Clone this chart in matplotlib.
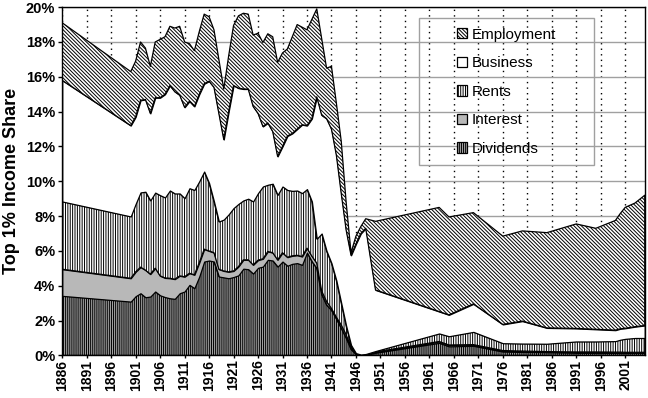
import numpy as np
import matplotlib
matplotlib.use('Agg')
from matplotlib import pyplot as plt
from matplotlib.patches import Rectangle

# share of national income (%) held by the top 1%, by income source
years = [1886, 1900, 1901, 1902, 1903, 1904, 1905, 1906, 1907, 1908, 1909,
         1910, 1911, 1912, 1913, 1914, 1915, 1916, 1917, 1918, 1919,
         1920, 1921, 1922, 1923, 1924, 1925, 1926, 1927, 1928, 1929,
         1930, 1931, 1932, 1933, 1934, 1935, 1936, 1937, 1938, 1939,
         1940, 1941, 1942, 1943, 1944, 1945, 1946, 1947, 1948, 1950,
         1963, 1965, 1970, 1976, 1980, 1985, 1991, 1995, 1999, 2000,
         2001, 2003, 2005]

dividends = [3.42, 3.09, 3.40, 3.57, 3.34, 3.38, 3.67, 3.45, 3.35, 3.28, 3.25,
             3.57, 3.67, 4.05, 3.86, 4.53, 5.39, 5.45, 5.39, 4.53, 4.48,
             4.43, 4.50, 4.60, 4.98, 4.95, 4.70, 5.03, 5.10, 5.49, 5.45,
             5.10, 5.39, 5.15, 5.26, 5.30, 5.20, 5.91, 5.40, 5.00, 3.50,
             2.90, 2.60, 2.10, 1.56, 1.00, 0.35, 0.07, 0.00, 0.03, 0.15,
             0.72, 0.52, 0.55, 0.22, 0.20, 0.18, 0.15, 0.15, 0.14, 0.14,
             0.14, 0.14, 0.14]

interest = [1.53, 1.34, 1.40, 1.50, 1.56, 1.29, 1.34, 1.12, 1.10, 1.15, 1.13,
            1.00, 0.85, 0.67, 0.77, 0.80, 0.71, 0.55, 0.51, 0.42, 0.37,
            0.37, 0.35, 0.50, 0.51, 0.54, 0.50, 0.44, 0.45, 0.48, 0.45,
            0.39, 0.51, 0.49, 0.46, 0.45, 0.48, 0.25, 0.30, 0.30, 0.20,
            0.20, 0.10, 0.10, 0.19, 0.20, 0.10, 0.03, 0.02, 0.02, 0.05,
            0.08, 0.08, 0.07, 0.06, 0.05, 0.04, 0.05, 0.05, 0.05, 0.05,
            0.04, 0.04, 0.04]

rents = [3.89, 3.55, 3.90, 4.29, 4.50, 4.23, 4.34, 4.63, 4.62, 5.04, 4.92,
         4.73, 4.51, 4.88, 4.87, 4.67, 4.46, 3.90, 2.94, 2.74, 2.95,
         3.30, 3.61, 3.60, 3.41, 3.51, 3.64, 3.85, 4.15, 3.83, 3.96,
         3.73, 3.80, 3.86, 3.73, 3.72, 3.64, 3.39, 3.14, 1.40, 3.30,
         2.90, 2.60, 2.10, 1.25, 0.50, 0.15, 0.03, 0.03, 0.03, 0.05,
         0.46, 0.50, 0.73, 0.42, 0.43, 0.45, 0.60, 0.60, 0.63, 0.71,
         0.77, 0.82, 0.82]

business = [6.96, 5.22, 5.00, 5.29, 5.30, 5.00, 5.45, 5.60, 5.93, 6.03, 5.85,
            5.65, 5.22, 5.00, 4.80, 5.00, 5.04, 5.85, 6.56, 6.21, 4.60,
            5.90, 7.04, 6.65, 6.40, 6.30, 5.46, 4.58, 3.45, 3.55, 3.00,
            2.21, 2.30, 3.10, 3.30, 3.53, 3.93, 3.65, 4.76, 8.15, 6.80,
            7.60, 7.70, 7.20, 6.30, 5.50, 5.15, 6.27, 6.95, 7.22, 3.51,
            1.26, 1.23, 1.61, 1.08, 1.29, 0.91, 0.75, 0.70, 0.63, 0.63,
            0.61, 0.65, 0.72]

employment = [3.30, 3.10, 3.20, 3.35, 2.95, 2.70, 3.20, 3.35, 3.30, 3.40, 3.65,
              3.95, 3.75, 3.30, 3.20, 3.60, 4.00, 3.70, 3.30, 3.10, 2.90,
              3.20, 3.45, 4.15, 4.35, 4.30, 4.10, 4.60, 4.82, 5.12, 5.44,
              5.40, 5.37, 5.00, 5.55, 6.00, 5.60, 5.50, 5.70, 5.05, 4.40,
              2.90, 3.60, 3.00, 3.00, 1.60, 0.15, 0.45, 0.40, 0.55, 3.94,
              5.98, 5.62, 5.24, 5.07, 5.18, 5.47, 6.00, 5.80, 6.30, 6.62,
              6.94, 7.10, 7.48]

labels = ['Dividends', 'Interest', 'Rents', 'Business', 'Employment']
tick_years = list(range(1886, 2002, 5))

plt.rcParams['font.family'] = ['Liberation Sans', 'DejaVu Sans']
plt.rcParams['hatch.linewidth'] = 0.7


def main():
    fig = plt.figure(figsize=(6.48, 3.98), dpi=100)
    ax = fig.add_axes([0.096, 0.107, 0.899, 0.875])

    series = [dividends, interest, rents, business, employment]
    styles = [('#a0a0a0', '|' * 8), ('#b8b8b8', None), ('white', '|' * 7),
              ('white', None), ('white', '\\' * 9)]
    x = np.array(years)
    lower = np.zeros(len(years))
    handles = []
    for vals, (fc, hatch), lab in zip(series, styles, labels):
        upper = lower + np.array(vals)
        h = ax.fill_between(x, lower, upper, facecolor=fc, hatch=hatch,
                            edgecolor='black', linewidth=0.9, label=lab,
                            zorder=3)
        handles.append(h)
        lower = upper

    ax.set_xlim(1886, 2005)
    ax.set_ylim(0, 20)
    ax.set_yticks(range(0, 21, 2))
    ax.set_yticklabels(['%d%%' % v for v in range(0, 21, 2)],
                       fontweight='bold', fontsize=10.5)
    ax.set_xticks(tick_years)
    ax.set_xticklabels([str(y) for y in tick_years], rotation=90,
                       fontweight='bold', fontsize=10)
    ax.tick_params(axis='both', direction='out', length=3, width=1, pad=2)
    ax.tick_params(axis='x', length=2, pad=1)
    ax.set_ylabel('Top 1% Income Share', fontweight='bold', fontsize=13,
                  labelpad=4)

    ax.set_axisbelow(True)
    ax.yaxis.grid(True, color='#a0a0a0', linestyle='-', linewidth=1)
    ax.xaxis.grid(True, color='black', linestyle=(0, (1, 3)), linewidth=1)
    for sp in ax.spines.values():
        sp.set_linewidth(1)
        sp.set_zorder(5)

    # legend: frameless box, drawn with a plain rectangle like the original
    ax.add_patch(Rectangle((0.612, 0.547), 0.301, 0.421, transform=ax.transAxes,
                           fill=False, edgecolor='#a0a0a0', linewidth=1,
                           zorder=6))
    leg = ax.legend(handles[::-1], labels[::-1], loc='center',
                    bbox_to_anchor=(0.7625, 0.757), frameon=False,
                    fontsize=11, labelspacing=0.95, handlelength=0.65,
                    handleheight=0.65, handletextpad=0.3)
    leg.set_zorder(7)

    fig.savefig('out.png', dpi=100)


if __name__ == '__main__':
    main()
